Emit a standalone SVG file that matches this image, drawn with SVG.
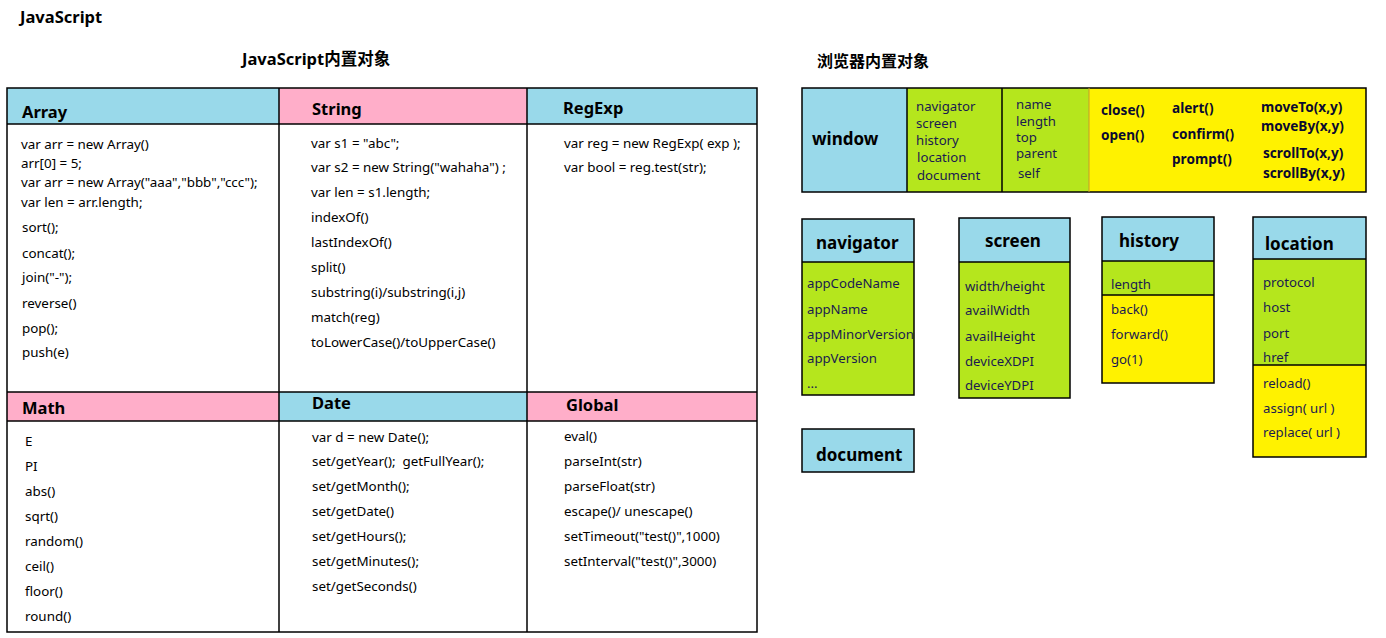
<svg xmlns="http://www.w3.org/2000/svg" width="1386" height="638" viewBox="0 0 1386 638">
<style>
text{font-family:"Noto Sans","Noto Sans CJK SC",sans-serif;fill:#000}
.t{font-size:13.4px;dominant-baseline:central}
.n{font-size:13.2px;dominant-baseline:central;fill:#1a1a50}
.h{font-size:16.5px;font-weight:bold;dominant-baseline:central}
.hb{font-size:17px;font-weight:bold;dominant-baseline:central}
.y{font-size:13.6px;font-weight:bold;dominant-baseline:central;fill:#0a0a30}
.ln{stroke:#000;stroke-width:1.5;fill:none}
.blue{fill:#99D9EA}
.pink{fill:#FFAEC9}
.green{fill:#B5E61D}
.yellow{fill:#FFF200}
</style>
<rect width="1386" height="638" fill="#fff"/>
<g id="titles">
<text x="20" y="16" class="h">JavaScript</text>
<text x="242" y="58" class="h">JavaScript内置对象</text>
<text x="817" y="61" class="h" style="font-size:16px">浏览器内置对象</text>
</g>
<g id="js-table">
<rect x="7" y="88" width="272" height="36" class="blue"/>
<rect x="279" y="88" width="248" height="36" class="pink"/>
<rect x="527" y="88" width="230" height="36" class="blue"/>
<rect x="7" y="392" width="272" height="29" class="pink"/>
<rect x="279" y="392" width="248" height="29" class="blue"/>
<rect x="527" y="392" width="230" height="29" class="pink"/>
<rect x="7" y="88" width="750" height="544" class="ln"/>
<line x1="279" y1="88" x2="279" y2="632" class="ln"/>
<line x1="527" y1="88" x2="527" y2="632" class="ln"/>
<line x1="7" y1="124" x2="757" y2="124" class="ln"/>
<line x1="7" y1="392" x2="757" y2="392" class="ln"/>
<line x1="7" y1="421" x2="757" y2="421" class="ln"/>
</g>
<g id="array">
<text x="22" y="111" class="h">Array</text>
<text x="21" y="144" class="t">var arr = new Array()</text>
<text x="21" y="163" class="t">arr[0] = 5;</text>
<text x="21" y="182" class="t">var arr = new Array("aaa","bbb","ccc");</text>
<text x="21" y="202" class="t">var len = arr.length;</text>
<text x="22" y="227" class="t">sort();</text>
<text x="22" y="253" class="t">concat();</text>
<text x="22" y="277" class="t">join("-");</text>
<text x="22" y="303" class="t">reverse()</text>
<text x="22" y="328" class="t">pop();</text>
<text x="22" y="352" class="t">push(e)</text>
</g>
<g id="string">
<text x="312" y="108" class="h">String</text>
<text x="311" y="143" class="t">var s1 = "abc";</text>
<text x="311" y="167" class="t">var s2 = new String("wahaha") ;</text>
<text x="311" y="192" class="t">var len = s1.length;</text>
<text x="311" y="217" class="t">indexOf()</text>
<text x="311" y="242" class="t">lastIndexOf()</text>
<text x="311" y="267" class="t">split()</text>
<text x="311" y="292" class="t">substring(i)/substring(i,j)</text>
<text x="311" y="317" class="t">match(reg)</text>
<text x="311" y="342" class="t">toLowerCase()/toUpperCase()</text>
</g>
<g id="regexp">
<text x="563" y="107" class="h">RegExp</text>
<text x="564" y="143" class="t">var reg = new RegExp( exp );</text>
<text x="564" y="167" class="t">var bool = reg.test(str);</text>
</g>
<g id="math">
<text x="22" y="407" class="h">Math</text>
<text x="25" y="441" class="t">E</text>
<text x="25" y="466" class="t">PI</text>
<text x="25" y="491" class="t">abs()</text>
<text x="25" y="516" class="t">sqrt()</text>
<text x="25" y="541" class="t">random()</text>
<text x="25" y="566" class="t">ceil()</text>
<text x="25" y="591" class="t">floor()</text>
<text x="25" y="616" class="t">round()</text>
</g>
<g id="date">
<text x="312" y="402" class="h">Date</text>
<text x="312" y="437" class="t">var d = new Date();</text>
<text x="312" y="461" class="t">set/getYear();&#160; getFullYear();</text>
<text x="312" y="486" class="t">set/getMonth();</text>
<text x="312" y="511" class="t">set/getDate()</text>
<text x="312" y="536" class="t">set/getHours();</text>
<text x="312" y="561" class="t">set/getMinutes();</text>
<text x="312" y="586" class="t">set/getSeconds()</text>
</g>
<g id="global">
<text x="566" y="404" class="h">Global</text>
<text x="564" y="436" class="t">eval()</text>
<text x="564" y="461" class="t">parseInt(str)</text>
<text x="564" y="486" class="t">parseFloat(str)</text>
<text x="564" y="511" class="t">escape()/ unescape()</text>
<text x="564" y="536" class="t">setTimeout("test()",1000)</text>
<text x="564" y="561" class="t">setInterval("test()",3000)</text>
</g>
<g id="window">
<rect x="802" y="88" width="105" height="104" class="blue"/>
<rect x="907" y="88" width="182" height="104" class="green"/>
<rect x="1089" y="88" width="277" height="104" class="yellow"/>
<rect x="802" y="88" width="564" height="104" class="ln"/>
<line x1="907" y1="88" x2="907" y2="192" class="ln"/>
<line x1="1002" y1="88" x2="1002" y2="192" class="ln"/>
<line x1="1089" y1="88" x2="1089" y2="192" stroke="#c89a2a" stroke-width="1"/>
<text x="812" y="138" class="hb">window</text>
<text x="916" y="106" class="n">navigator</text>
<text x="916" y="123" class="n">screen</text>
<text x="916" y="140" class="n">history</text>
<text x="917" y="157" class="n">location</text>
<text x="917" y="175" class="n">document</text>
<text x="1016" y="104" class="n">name</text>
<text x="1016" y="121" class="n">length</text>
<text x="1016" y="137" class="n">top</text>
<text x="1016" y="153" class="n">parent</text>
<text x="1018" y="173" class="n">self</text>
<text x="1101" y="109" class="y">close()</text>
<text x="1101" y="134" class="y">open()</text>
<text x="1172" y="107" class="y">alert()</text>
<text x="1172" y="133" class="y">confirm()</text>
<text x="1172" y="158" class="y">prompt()</text>
<text x="1261" y="106" class="y">moveTo(x,y)</text>
<text x="1261" y="125" class="y">moveBy(x,y)</text>
<text x="1263" y="152" class="y">scrollTo(x,y)</text>
<text x="1263" y="172" class="y">scrollBy(x,y)</text>
</g>
<g id="navigator">
<rect x="802" y="219" width="112" height="43" class="blue"/>
<rect x="802" y="262" width="112" height="133" class="green"/>
<rect x="802" y="219" width="112" height="176" class="ln"/>
<line x1="802" y1="262" x2="914" y2="262" class="ln"/>
<text x="816" y="242" class="hb">navigator</text>
<text x="807" y="283" class="n">appCodeName</text>
<text x="807" y="309" class="n">appName</text>
<text x="807" y="334" class="n">appMinorVersion</text>
<text x="807" y="358" class="n">appVersion</text>
<text x="807" y="383" class="n">...</text>
</g>
<g id="screen">
<rect x="959" y="218" width="111" height="44" class="blue"/>
<rect x="959" y="262" width="111" height="136" class="green"/>
<rect x="959" y="218" width="111" height="180" class="ln"/>
<line x1="959" y1="262" x2="1070" y2="262" class="ln"/>
<text x="985" y="240" class="hb">screen</text>
<text x="965" y="286" class="n">width/height</text>
<text x="965" y="310" class="n">availWidth</text>
<text x="965" y="336" class="n">availHeight</text>
<text x="965" y="361" class="n">deviceXDPI</text>
<text x="965" y="385" class="n">deviceYDPI</text>
</g>
<g id="document">
<rect x="802" y="429" width="112" height="43" class="blue"/>
<rect x="802" y="429" width="112" height="43" class="ln"/>
<text x="816" y="454" class="hb">document</text>
</g>
<g id="history">
<rect x="1102" y="217" width="112" height="44" class="blue"/>
<rect x="1102" y="261" width="112" height="34" class="green"/>
<rect x="1102" y="295" width="112" height="88" class="yellow"/>
<rect x="1102" y="217" width="112" height="166" class="ln"/>
<line x1="1102" y1="261" x2="1214" y2="261" class="ln"/>
<line x1="1102" y1="295" x2="1214" y2="295" class="ln"/>
<text x="1119" y="240" class="hb">history</text>
<text x="1111" y="284" class="n">length</text>
<text x="1111" y="309" class="n">back()</text>
<text x="1111" y="334" class="n">forward()</text>
<text x="1111" y="359" class="n">go(1)</text>
</g>
<g id="location">
<rect x="1253" y="217" width="113" height="42" class="blue"/>
<rect x="1253" y="259" width="113" height="106" class="green"/>
<rect x="1253" y="365" width="113" height="92" class="yellow"/>
<rect x="1253" y="217" width="113" height="240" class="ln"/>
<line x1="1253" y1="259" x2="1366" y2="259" class="ln"/>
<line x1="1253" y1="365" x2="1366" y2="365" class="ln"/>
<text x="1265" y="243" class="hb">location</text>
<text x="1263" y="282" class="n">protocol</text>
<text x="1263" y="307" class="n">host</text>
<text x="1263" y="333" class="n">port</text>
<text x="1263" y="357" class="n">href</text>
<text x="1263" y="383" class="n">reload()</text>
<text x="1263" y="408" class="n">assign( url )</text>
<text x="1263" y="432" class="n">replace( url )</text>
</g>
</svg>
